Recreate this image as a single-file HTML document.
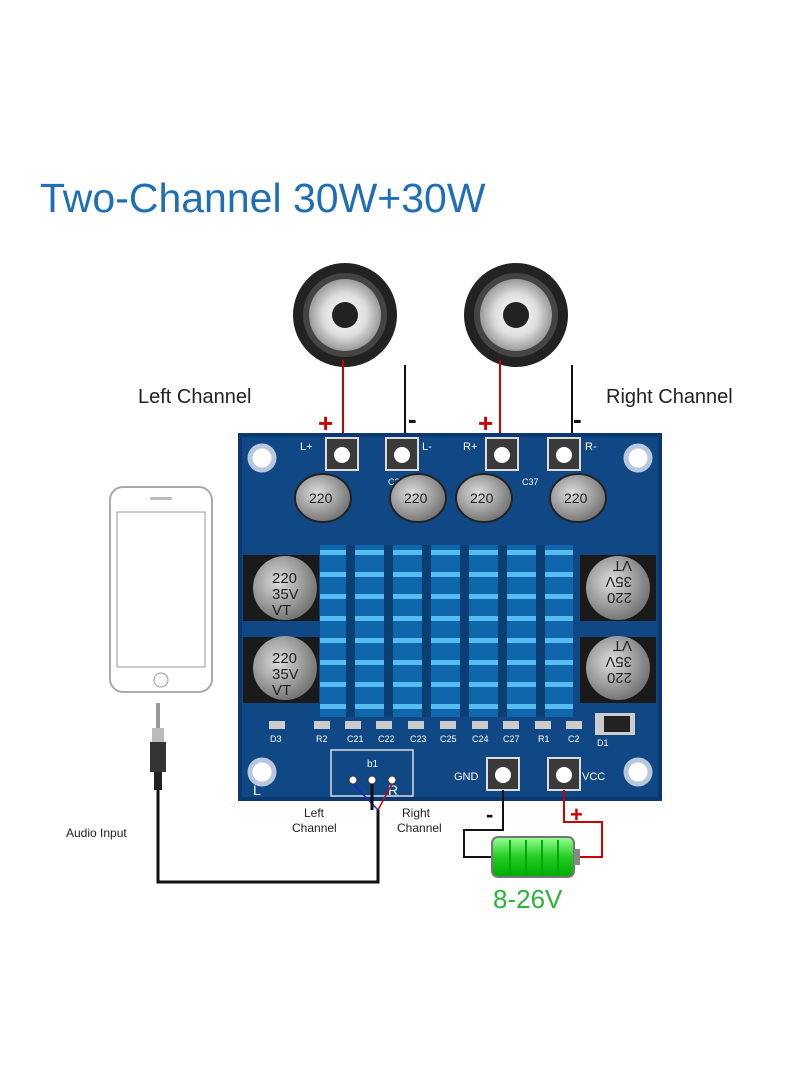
<!DOCTYPE html>
<html><head><style>body{margin:0;background:#fff}svg{display:block}</style></head><body>
<svg width="800" height="1091" viewBox="0 0 800 1091" xmlns="http://www.w3.org/2000/svg" font-family="Liberation Sans, sans-serif">
<defs>
<radialGradient id="spk" cx="50%" cy="50%" r="50%"><stop offset="0" stop-color="#fff"/><stop offset="0.6" stop-color="#ddd"/><stop offset="1" stop-color="#999"/></radialGradient>
<radialGradient id="cap" cx="40%" cy="40%" r="60%"><stop offset="0" stop-color="#ddd"/><stop offset="1" stop-color="#777"/></radialGradient>
<linearGradient id="bat" x1="0" y1="0" x2="0" y2="1"><stop offset="0" stop-color="#9f9"/><stop offset="0.5" stop-color="#2c2"/><stop offset="1" stop-color="#0a0"/></linearGradient>
</defs>
<text x="40" y="212" font-size="41" fill="#1f6fb8">Two-Channel 30W+30W</text>
<g>
<circle cx="345" cy="315" r="52" fill="#222"/><circle cx="345" cy="315" r="42" fill="#444"/><circle cx="345" cy="315" r="36" fill="url(#spk)"/><circle cx="345" cy="315" r="13" fill="#222"/>
<circle cx="516" cy="315" r="52" fill="#222"/><circle cx="516" cy="315" r="42" fill="#444"/><circle cx="516" cy="315" r="36" fill="url(#spk)"/><circle cx="516" cy="315" r="13" fill="#222"/>
</g>
<text x="138" y="403" font-size="20" fill="#222">Left Channel</text>
<text x="606" y="403" font-size="20" fill="#222">Right Channel</text>
<g stroke-width="2" fill="none">
<path d="M343 360V455" stroke="#c00"/><path d="M405 365V455" stroke="#111"/>
<path d="M500 360V455" stroke="#c00"/><path d="M572 365V455" stroke="#111"/>
</g>
<g font-size="26" font-weight="bold"><text x="318" y="432" fill="#c00">+</text><text x="478" y="432" fill="#c00">+</text>
<text x="408" y="428" fill="#111">-</text><text x="573" y="428" fill="#111">-</text></g>
<rect x="238" y="433" width="424" height="368" fill="#0b3870"/>
<rect x="242" y="437" width="416" height="360" fill="#104885"/>
<g fill="#fff" stroke="#b8c8dc" stroke-width="5">
<circle cx="262" cy="458" r="12"/><circle cx="638" cy="458" r="12"/><circle cx="262" cy="772" r="12"/><circle cx="638" cy="772" r="12"/></g>
<g fill="#3a3a3a" stroke="#ddd" stroke-width="2">
<rect x="326" y="438" width="32" height="32"/><rect x="386" y="438" width="32" height="32"/><rect x="486" y="438" width="32" height="32"/><rect x="548" y="438" width="32" height="32"/>
<rect x="487" y="758" width="32" height="32"/><rect x="548" y="758" width="32" height="32"/></g>
<g fill="#fff"><circle cx="342" cy="455" r="8"/><circle cx="402" cy="455" r="8"/><circle cx="502" cy="455" r="8"/><circle cx="564" cy="455" r="8"/><circle cx="503" cy="775" r="8"/><circle cx="564" cy="775" r="8"/></g>
<g fill="#fff" font-size="11"><text x="300" y="450">L+</text><text x="422" y="450">L-</text><text x="463" y="450">R+</text><text x="585" y="450">R-</text>
<text x="454" y="780">GND</text><text x="582" y="780">VCC</text>
<text x="388" y="485" font-size="9">C30</text><text x="522" y="485" font-size="9">C37</text>
<text x="270" y="742" font-size="9">D3</text><text x="316" y="742" font-size="9">R2</text><text x="347" y="742" font-size="9">C21</text><text x="378" y="742" font-size="9">C22</text><text x="410" y="742" font-size="9">C23</text><text x="440" y="742" font-size="9">C25</text><text x="472" y="742" font-size="9">C24</text><text x="503" y="742" font-size="9">C27</text><text x="538" y="742" font-size="9">R1</text><text x="568" y="742" font-size="9">C2</text><text x="597" y="746" font-size="9">D1</text>
<text x="253" y="795" font-size="14">L</text><text x="388" y="795" font-size="14">R</text></g>
<g fill="url(#cap)" stroke="#222" stroke-width="2">
<ellipse cx="323" cy="498" rx="28" ry="24"/><ellipse cx="418" cy="498" rx="28" ry="24"/><ellipse cx="484" cy="498" rx="28" ry="24"/><ellipse cx="578" cy="498" rx="28" ry="24"/></g>
<g font-size="14" fill="#222"><text x="309" y="503">220</text><text x="404" y="503">220</text><text x="470" y="503">220</text><text x="564" y="503">220</text></g>
<rect x="320" y="545" width="253" height="172" fill="#1066aa"/>
<g fill="#55bdf2">
<rect x="320" y="550" width="253" height="5"/><rect x="320" y="572" width="253" height="5"/><rect x="320" y="594" width="253" height="5"/><rect x="320" y="616" width="253" height="5"/><rect x="320" y="638" width="253" height="5"/><rect x="320" y="660" width="253" height="5"/><rect x="320" y="682" width="253" height="5"/><rect x="320" y="704" width="253" height="5"/></g>
<g fill="#0b3f72"><rect x="346" y="545" width="9" height="172"/><rect x="384" y="545" width="9" height="172"/><rect x="422" y="545" width="9" height="172"/><rect x="460" y="545" width="9" height="172"/><rect x="498" y="545" width="9" height="172"/><rect x="536" y="545" width="9" height="172"/></g>
<g fill="#1a1a1a"><rect x="243" y="555" width="76" height="66"/><rect x="243" y="637" width="76" height="66"/><rect x="580" y="555" width="76" height="66"/><rect x="580" y="637" width="76" height="66"/></g>
<g fill="url(#cap)"><circle cx="285" cy="588" r="32"/><circle cx="285" cy="668" r="32"/><circle cx="618" cy="588" r="32"/><circle cx="618" cy="668" r="32"/></g>
<g font-size="15" fill="#222"><text x="272" y="583">220</text><text x="272" y="599">35V</text><text x="272" y="615">VT</text>
<text x="272" y="663">220</text><text x="272" y="679">35V</text><text x="272" y="695">VT</text></g>
<g font-size="15" fill="#222" transform="rotate(180 618 588)"><text x="604" y="583">220</text><text x="604" y="599">35V</text><text x="604" y="615">VT</text></g>
<g font-size="15" fill="#222" transform="rotate(180 618 668)"><text x="604" y="663">220</text><text x="604" y="679">35V</text><text x="604" y="695">VT</text></g>
<g fill="#ccc"><rect x="269" y="721" width="16" height="8"/><rect x="314" y="721" width="16" height="8"/><rect x="345" y="721" width="16" height="8"/><rect x="376" y="721" width="16" height="8"/><rect x="408" y="721" width="16" height="8"/><rect x="440" y="721" width="16" height="8"/><rect x="472" y="721" width="16" height="8"/><rect x="503" y="721" width="16" height="8"/><rect x="535" y="721" width="16" height="8"/><rect x="566" y="721" width="16" height="8"/>
<rect x="595" y="713" width="40" height="22"/></g>
<rect x="604" y="716" width="26" height="16" fill="#222"/>
<rect x="331" y="750" width="82" height="46" fill="none" stroke="#ddd" stroke-width="1.5"/>
<text x="367" y="767" font-size="10" fill="#fff">b1</text>
<g fill="#fff" stroke="#333"><circle cx="353" cy="780" r="4"/><circle cx="372" cy="780" r="4"/><circle cx="392" cy="780" r="4"/></g>
<path d="M392 784L378 810" stroke="#c00" stroke-width="1.5" fill="none"/>
<path d="M353 784L378 810" stroke="#22c" stroke-width="1.5"/>
<path d="M372 784V810M378 810V882H158V790" stroke="#111" stroke-width="3" fill="none"/>
<text x="304" y="817" font-size="12" fill="#222">Left</text><text x="292" y="832" font-size="12" fill="#222">Channel</text>
<text x="402" y="817" font-size="12" fill="#222">Right</text><text x="397" y="832" font-size="12" fill="#222">Channel</text>
<text x="66" y="837" font-size="12" fill="#222">Audio Input</text>
<rect x="110" y="487" width="102" height="205" rx="13" fill="#fff" stroke="#aaa" stroke-width="2"/>
<rect x="117" y="512" width="88" height="155" fill="#fff" stroke="#999"/>
<circle cx="161" cy="680" r="7" fill="none" stroke="#999"/>
<rect x="150" y="497" width="22" height="3" rx="1.5" fill="#bbb"/>
<rect x="156" y="703" width="4" height="25" fill="#999"/><rect x="152" y="728" width="12" height="14" fill="#bbb"/><rect x="150" y="742" width="16" height="30" fill="#333"/><rect x="154" y="772" width="8" height="18" fill="#222"/>
<path d="M503 790V830H464V857H492" stroke="#111" stroke-width="2" fill="none"/>
<path d="M564 790V822H602V857H580" stroke="#c00" stroke-width="2" fill="none"/>
<text x="486" y="822" font-size="22" font-weight="bold" fill="#111">-</text>
<text x="570" y="822" font-size="22" font-weight="bold" fill="#c00">+</text>
<rect x="492" y="837" width="82" height="40" rx="6" fill="url(#bat)" stroke="#777" stroke-width="2"/>
<rect x="574" y="849" width="6" height="16" fill="#888"/>
<g stroke="#0a0" stroke-width="2"><path d="M510 840V874M526 840V874M542 840V874M558 840V874"/></g>
<text x="493" y="908" font-size="26" fill="#2db33a">8-26V</text>
</svg>
</body></html>
